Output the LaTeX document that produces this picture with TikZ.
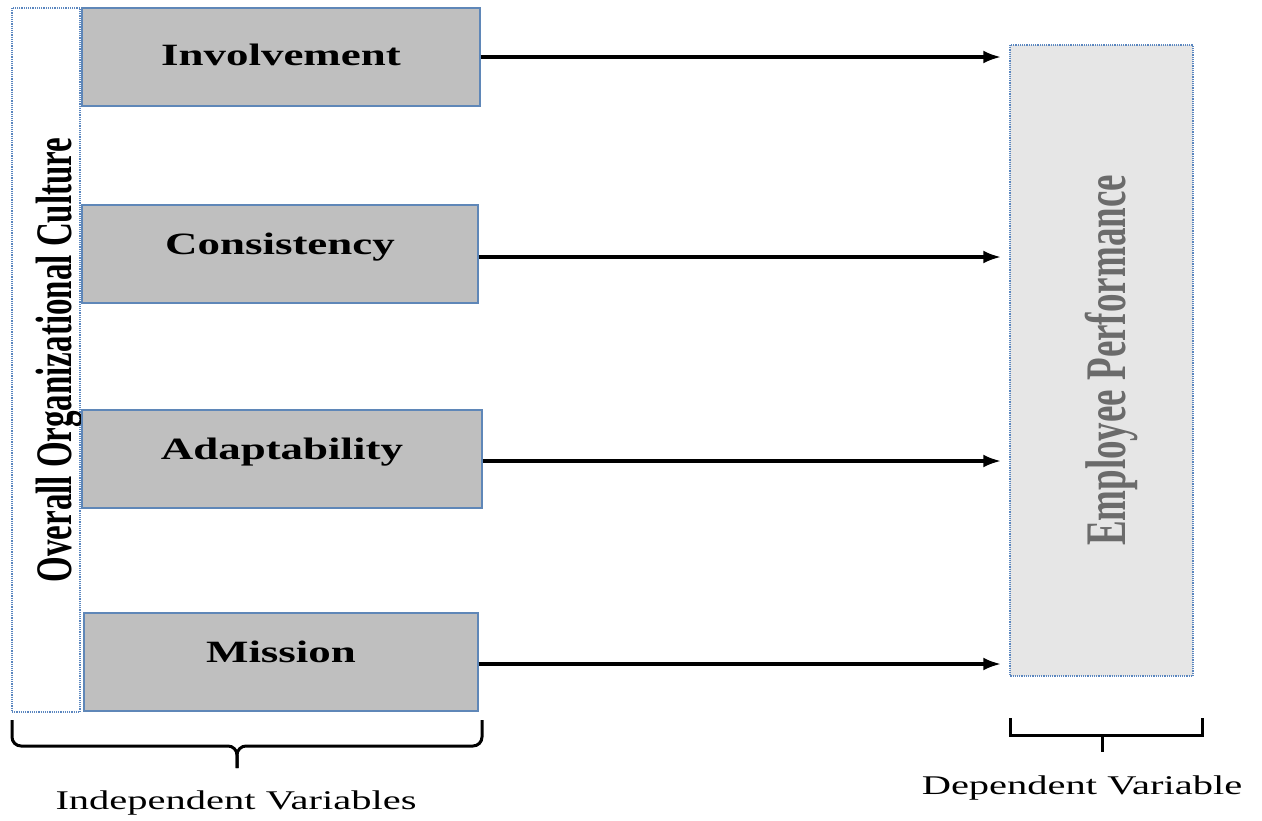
\documentclass[tikz,border=0pt]{standalone}
\usepackage{fontspec}
\setmainfont{Liberation Serif}
\usetikzlibrary{arrows.meta,positioning}
\definecolor{boxgray}{HTML}{BFBFBF}
\definecolor{boxline}{HTML}{5F87B8}
\definecolor{dotline}{HTML}{5A86BF}
\definecolor{depfill}{HTML}{E6E6E6}
\definecolor{deptext}{HTML}{6B6B6B}
\newcommand{\wide}[1]{\scalebox{1.45}[1]{#1}}
\newcommand{\tall}[1]{\scalebox{1}[1.55]{#1}}

\begin{document}
\begin{tikzpicture}[x=1pt,y=-1pt, every node/.style={align=center,inner sep=0pt}, box/.style={draw=boxline,fill=boxgray,line width=1.2pt,minimum height=98,text height=20pt,text depth=20pt,font=\fontsize{31}{36}\selectfont\bfseries}, dotbox/.style={draw=dotline,line width=1.5pt,dash pattern=on 1.2pt off 1pt,rotate=90,text depth=0pt}, arr/.style={-{Latex[length=18pt,width=13pt]},line width=3.5pt,shorten >=8pt}, bracket/.style={line width=3pt}, caption/.style={font=\fontsize{27}{32}\selectfont}]
\useasboundingbox (0,0) rectangle (1262,820);
% left column
\node[dotbox,fill=white,minimum width=704,minimum height=68,text height=50pt,font=\fontsize{33}{40}\selectfont\bfseries] (overall) at (46,360) {\tall{Overall Organizational Culture}};
\node[box,minimum width=398,text depth=4pt] (inv) at (281,57) {\wide{Involvement}};
\node[box,minimum width=396] (con) at (280,254) {\wide{Consistency}};
\node[box,minimum width=400] (ada) at (282,459) {\wide{Adaptability}};
\node[box,minimum width=394] (mis) at (281,662) {\wide{Mission}};
% dependent variable
\node[dotbox,fill=depfill,minimum width=631,minimum height=183,text height=48pt,text=deptext,font=\fontsize{37}{42}\selectfont\bfseries] (perf) at (1101.5,360.5) {\tall{Employee Performance}};
\draw[arr] (inv.east) -- (inv.east -| perf.north);
\draw[arr] ([yshift=-3pt]con.east) -- ([yshift=-3pt]con.east -| perf.north);
\draw[arr] ([yshift=-2pt]ada.east) -- ([yshift=-2pt]ada.east -| perf.north);
\draw[arr] ([yshift=-2pt]mis.east) -- ([yshift=-2pt]mis.east -| perf.north);
% braces
\coordinate (bl) at (12,720); \coordinate (br) at (482,720); \coordinate (btip) at (237,768);
\draw[bracket,rounded corners=9pt] (bl) |- (btip |- 0,746) -- (btip);
\draw[bracket,rounded corners=9pt] (br) |- (btip |- 0,746) -- (btip);
\coordinate (dl) at (1010,718); \coordinate (dr) at (1202,718); \coordinate (dtip) at (1102,752);
\draw[bracket] (dl) |- (dr |- 0,735) -- (dr);
\draw[bracket] (dtip |- 0,735) -- (dtip);
\node[caption] (indep) at (236,803) {\scalebox{1.5}[1]{Independent Variables}};
\node[caption] (dep) at (1082,788) {\scalebox{1.5}[1]{Dependent Variable}};
\end{tikzpicture}
\end{document}
